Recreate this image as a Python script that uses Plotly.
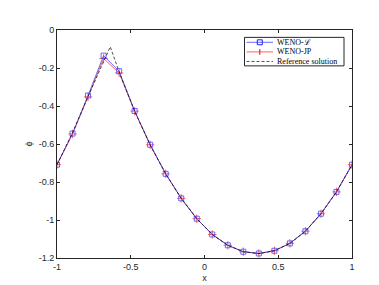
import plotly.graph_objects as go

x_grid = [-1.0, -0.8947, -0.7895, -0.6842, -0.5789, -0.4737, -0.3684, -0.2632, -0.1579, -0.0526,
          0.0526, 0.1579, 0.2632, 0.3684, 0.4737, 0.5789, 0.6842, 0.7895, 0.8947, 1.0]
phi_weno_l = [-0.709, -0.545, -0.345, -0.135, -0.217, -0.426, -0.604, -0.757, -0.886, -0.993,
              -1.076, -1.133, -1.167, -1.176, -1.162, -1.123, -1.059, -0.967, -0.852, -0.709]
phi_weno_jp = [-0.709, -0.547, -0.352, -0.150, -0.226, -0.427, -0.604, -0.757, -0.886, -0.993,
               -1.076, -1.133, -1.167, -1.176, -1.162, -1.123, -1.059, -0.967, -0.852, -0.709]
x_ref = [-1.0, -0.8947, -0.7895, -0.6842, -0.639, -0.5789, -0.4737, -0.3684, -0.2632, -0.1579, -0.0526,
         0.0526, 0.1579, 0.2632, 0.3684, 0.4737, 0.5789, 0.6842, 0.7895, 0.8947, 1.0]
phi_ref = [-0.709, -0.540, -0.350, -0.165, -0.088, -0.220, -0.428, -0.605, -0.757, -0.886, -0.993,
           -1.076, -1.133, -1.167, -1.177, -1.162, -1.123, -1.059, -0.967, -0.852, -0.709]
legend_labels = ["WENO-<span style='font-family:DejaVu Serif'>ℒ</span>", "WENO-JP", "Reference solution"]

BLUE_LINE = "rgba(70,70,255,0.8)"
BLUE_MK = "rgb(30,30,255)"
RED_LINE = "rgba(255,70,70,0.85)"
RED_MK = "rgb(255,0,0)"
AX = "#262626"
DASH = "3px,2px"

fig = go.Figure()
fig.add_trace(go.Scatter(x=x_grid, y=phi_weno_jp, mode="lines+markers", name="WENO-JP",
                         line=dict(color=RED_LINE, width=1),
                         marker=dict(symbol="cross-thin-open", size=6,
                                     line=dict(color=RED_MK, width=1)), showlegend=False))
fig.add_trace(go.Scatter(x=x_grid, y=phi_weno_l, mode="lines+markers", name="WENO-L",
                         line=dict(color=BLUE_LINE, width=1),
                         marker=dict(symbol="square-open", size=5,
                                     line=dict(color=BLUE_MK, width=1)), showlegend=False))
fig.add_trace(go.Scatter(x=x_ref, y=phi_ref, mode="lines", name="Reference solution",
                         line=dict(color="black", width=0.7, dash=DASH), showlegend=False))

axis_common = dict(showgrid=False, zeroline=False, showline=True, linecolor=AX,
                   linewidth=1, mirror="ticks", ticks="inside", ticklen=3, tickcolor=AX,
                   tickfont=dict(family="Liberation Sans, Arial", size=9, color=AX))
fig.update_xaxes(range=[-1, 1], tickvals=[-1, -0.5, 0, 0.5, 1],
                 ticktext=["-1", "-0.5", "0", "0.5", "1"],
                 title=dict(text="x", font=dict(family="Liberation Sans, Arial", size=9, color=AX),
                            standoff=3),
                 **axis_common)
fig.update_yaxes(range=[-1.2, 0], tickvals=[0, -0.2, -0.4, -0.6, -0.8, -1, -1.2],
                 ticktext=["0", "-0.2", "-0.4", "-0.6", "-0.8", "-1", "-1.2"],
                 title=dict(text="ϕ", font=dict(family="Liberation Sans, Arial", size=9, color=AX),
                            standoff=4),
                 **axis_common)

# Manual compact legend (paper coordinates derived from plot-area pixels)
L, R, T, B = 49, 344, 22, 254
def px(v):
    return (v - L) / (R - L)
def py(v):
    return (B - v) / (B - T)

shapes = [dict(type="rect", xref="paper", yref="paper", x0=px(236.5), x1=px(336), y0=py(58.5), y1=py(29.5),
               line=dict(color=AX, width=1), fillcolor="white", layer="above")]
rows = [34.5, 44.3, 54.0]
styles = [dict(color=BLUE_LINE, width=1), dict(color=RED_LINE, width=1),
          dict(color="black", width=0.7, dash=DASH)]
for r, st in zip(rows, styles):
    shapes.append(dict(type="line", xref="paper", yref="paper", x0=px(238.5), x1=px(265), y0=py(r), y1=py(r),
                       line=st, layer="above"))
shapes.append(dict(type="rect", xref="paper", yref="paper", x0=px(249.3), x1=px(254.3),
                   y0=py(rows[0] + 2.5), y1=py(rows[0] - 2.5), line=dict(color=BLUE_MK, width=1), layer="above"))
shapes.append(dict(type="line", xref="paper", yref="paper", x0=px(251.8), x1=px(251.8),
                   y0=py(rows[1] + 3), y1=py(rows[1] - 3), line=dict(color=RED_MK, width=1), layer="above"))

annotations = []
for r, lab in zip(rows, legend_labels):
    annotations.append(dict(text=lab, xref="paper", yref="paper", x=px(267), y=py(r),
                            xanchor="left", yanchor="middle", showarrow=False,
                            font=dict(family="Liberation Serif, Times New Roman", size=8, color="black")))

fig.update_layout(width=379, height=285, margin=dict(l=49, r=35, t=22, b=31),
                  plot_bgcolor="white", paper_bgcolor="white", showlegend=False,
                  shapes=shapes, annotations=annotations)
fig.write_html("out.html")
